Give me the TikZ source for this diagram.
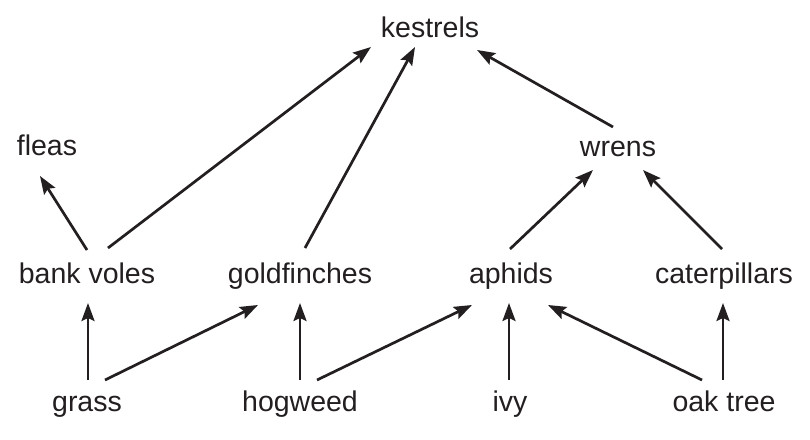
\documentclass[tikz,border=0pt]{standalone}
\usepackage{fontspec}
\setmainfont{Liberation Sans}
\usetikzlibrary{arrows.meta,calc}
\definecolor{ink}{HTML}{231F20}
\begin{document}
\begin{tikzpicture}[x=1pt,y=-1pt,
  lab/.style={anchor=base,inner sep=0pt,text=ink,font=\fontsize{28.5}{34}\selectfont},
  arr/.style={draw=ink,line width=2.7pt,-{Stealth[length=18pt,width=13pt,inset=3pt]}}]
\useasboundingbox[fill=white] (0,0) rectangle (810,439);
\node[lab] (kestrels) at (430,37) {kestrels};
\node[lab] (fleas) at (47,155) {fleas};
\node[lab] (wrens) at (618,156) {wrens};
\node[lab] (bankvoles) at (87,283) {bank voles};
\node[lab] (goldfinches) at (300,283) {goldfinches};
\node[lab] (aphids) at (511,283) {aphids};
\node[lab] (caterpillars) at (724,283) {caterpillars};
\node[lab] (grass) at (87,411) {grass};
\node[lab] (hogweed) at (300,411) {hogweed};
\node[lab] (ivy) at (510,411) {ivy};
\node[lab] (oaktree) at (724,411) {oak tree};
\draw[arr] ($(grass.base)+(1,-31)$) -- ($(bankvoles.base)+(1,20)$);
\draw[arr] ($(grass.base)+(18,-31)$) -- ($(goldfinches.base)+(-42,22)$);
\draw[arr] ($(hogweed.base)+(0,-31)$) -- ($(goldfinches.base)+(0,20)$);
\draw[arr] ($(hogweed.base)+(17,-31)$) -- ($(aphids.base)+(-39,22)$);
\draw[arr] ($(ivy.base)+(-1,-31)$) -- ($(aphids.base)+(-2,20)$);
\draw[arr] ($(oaktree.base)+(-22,-31)$) -- ($(aphids.base)+(37,22)$);
\draw[arr] ($(oaktree.base)+(-1,-31)$) -- ($(caterpillars.base)+(-1,20)$);
\draw[arr] ($(bankvoles.base)+(0,-33)$) -- ($(fleas.base)+(-7,21)$);
\draw[arr] ($(bankvoles.base)+(21,-35)$) -- ($(kestrels.base)+(-59,10)$);
\draw[arr] ($(goldfinches.base)+(5,-35)$) -- ($(kestrels.base)+(-15,10)$);
\draw[arr] ($(aphids.base)+(-1,-34)$) -- ($(wrens.base)+(-25,14)$);
\draw[arr] ($(caterpillars.base)+(-2,-34)$) -- ($(wrens.base)+(25,14)$);
\draw[arr] ($(wrens.base)+(-5,-29)$) -- ($(kestrels.base)+(47,13)$);
\end{tikzpicture}
\end{document}
